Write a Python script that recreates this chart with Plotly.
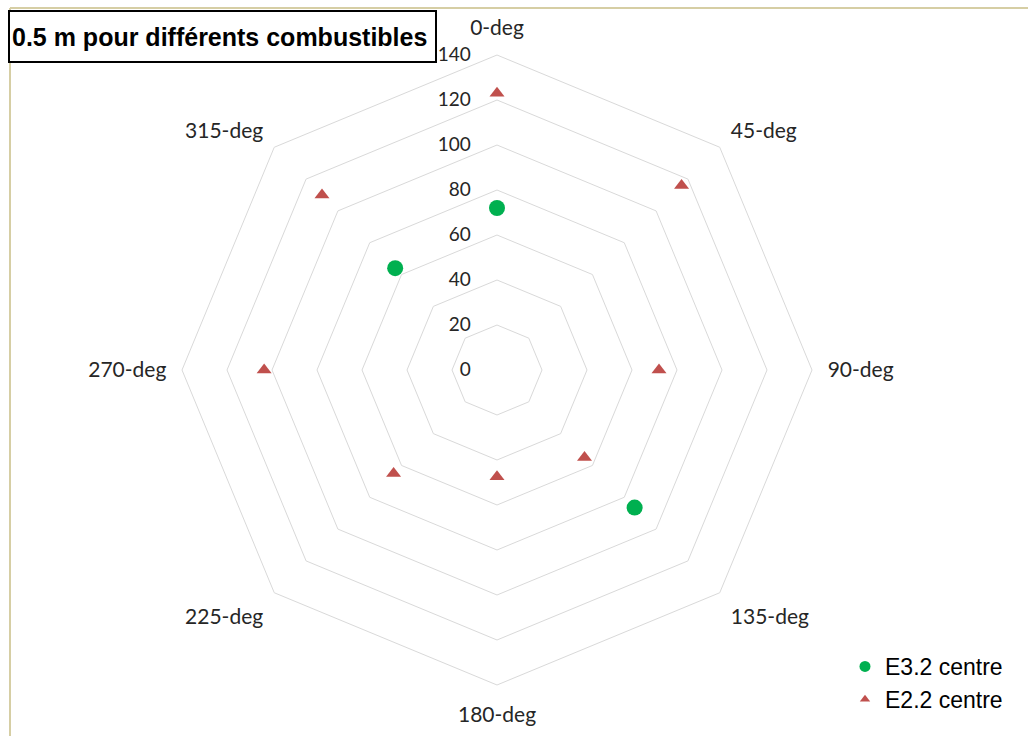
import plotly.graph_objects as go

categories = ["0-deg", "45-deg", "90-deg", "135-deg", "180-deg", "225-deg", "270-deg", "315-deg"]
e32_values = [72, None, None, 86.5, None, None, None, 64]
e22_values = [123, 116, 72, 55, 47.5, 65, 103.5, 110]
radial_ticks = [0, 20, 40, 60, 80, 100, 120, 140]
title_text = "0.5 m pour différents combustibles"

W, H = 1028, 736
cx, cy, R = 497, 370, 315
green, red = "#00b050", "#c0504d"

fig = go.Figure()
fig.add_trace(go.Scatterpolar(
    r=e32_values, theta=categories, mode="markers", name="E3.2 centre",
    marker=dict(symbol="circle", size=16, color=green), showlegend=False,
))
fig.add_trace(go.Scatterpolar(
    r=e22_values, theta=categories, mode="markers", name="E2.2 centre",
    marker=dict(symbol="triangle-up", size=13, color=red), showlegend=False,
))
# legend entries (smaller legend symbols, as in the reference)
fig.add_trace(go.Scatterpolar(
    r=[None], theta=[categories[0]], mode="markers", name="E3.2 centre",
    marker=dict(symbol="circle", size=11, color=green), legendgroup="a",
))
fig.add_trace(go.Scatterpolar(
    r=[None], theta=[categories[0]], mode="markers", name="E2.2 centre",
    marker=dict(symbol="triangle-up", size=9, color=red), legendgroup="b",
))

fig.update_layout(
    width=W, height=H,
    margin=dict(l=0, r=0, t=0, b=0),
    paper_bgcolor="white",
    showlegend=True,
    polar=dict(
        domain=dict(x=[(cx - R) / W, (cx + R) / W], y=[(H - cy - R) / H, (H - cy + R) / H]),
        bgcolor="white",
        gridshape="linear",
        radialaxis=dict(
            range=[0, 140], tickvals=radial_ticks, angle=90, side="counterclockwise",
            showline=False, gridcolor="#d9d9d9", gridwidth=1,
            ticks="outside", ticklen=19, tickcolor="rgba(0,0,0,0)",
            tickfont=dict(family="Lato", size=19, color="#262626"), tickangle=90,
        ),
        angularaxis=dict(
            categoryorder="array", categoryarray=categories,
            direction="clockwise", rotation=90,
            showgrid=False, showline=True, linecolor="#d9d9d9", linewidth=1,
            ticks="outside", ticklen=11, tickcolor="rgba(0,0,0,0)",
            tickfont=dict(family="Lato", size=21, color="#262626"),
        ),
    ),
    legend=dict(
        x=845 / W, y=(H - 645) / H, xanchor="left", yanchor="top",
        font=dict(family="Liberation Sans", size=23, color="black"),
        bgcolor="rgba(0,0,0,0)", traceorder="grouped", tracegroupgap=0,
        itemwidth=30,
    ),
    shapes=[
        dict(type="line", xref="paper", yref="paper", x0=10 / W, x1=1, y0=(H - 8) / H, y1=(H - 8) / H,
             line=dict(color="#d6cea4", width=2)),
        dict(type="line", xref="paper", yref="paper", x0=10 / W, x1=10 / W, y0=0, y1=(H - 8) / H,
             line=dict(color="#d6cea4", width=2)),
    ],
    annotations=[
        dict(text="<b>" + title_text + "</b>", xref="paper", yref="paper",
             x=8 / W, y=(H - 10) / H, xanchor="left", yanchor="top",
             showarrow=False, align="left",
             font=dict(family="Liberation Sans", size=25, color="black"),
             bordercolor="black", borderwidth=2, borderpad=2, bgcolor="white",
             width=421, height=45),
    ],
)

fig.write_html("out.html")
